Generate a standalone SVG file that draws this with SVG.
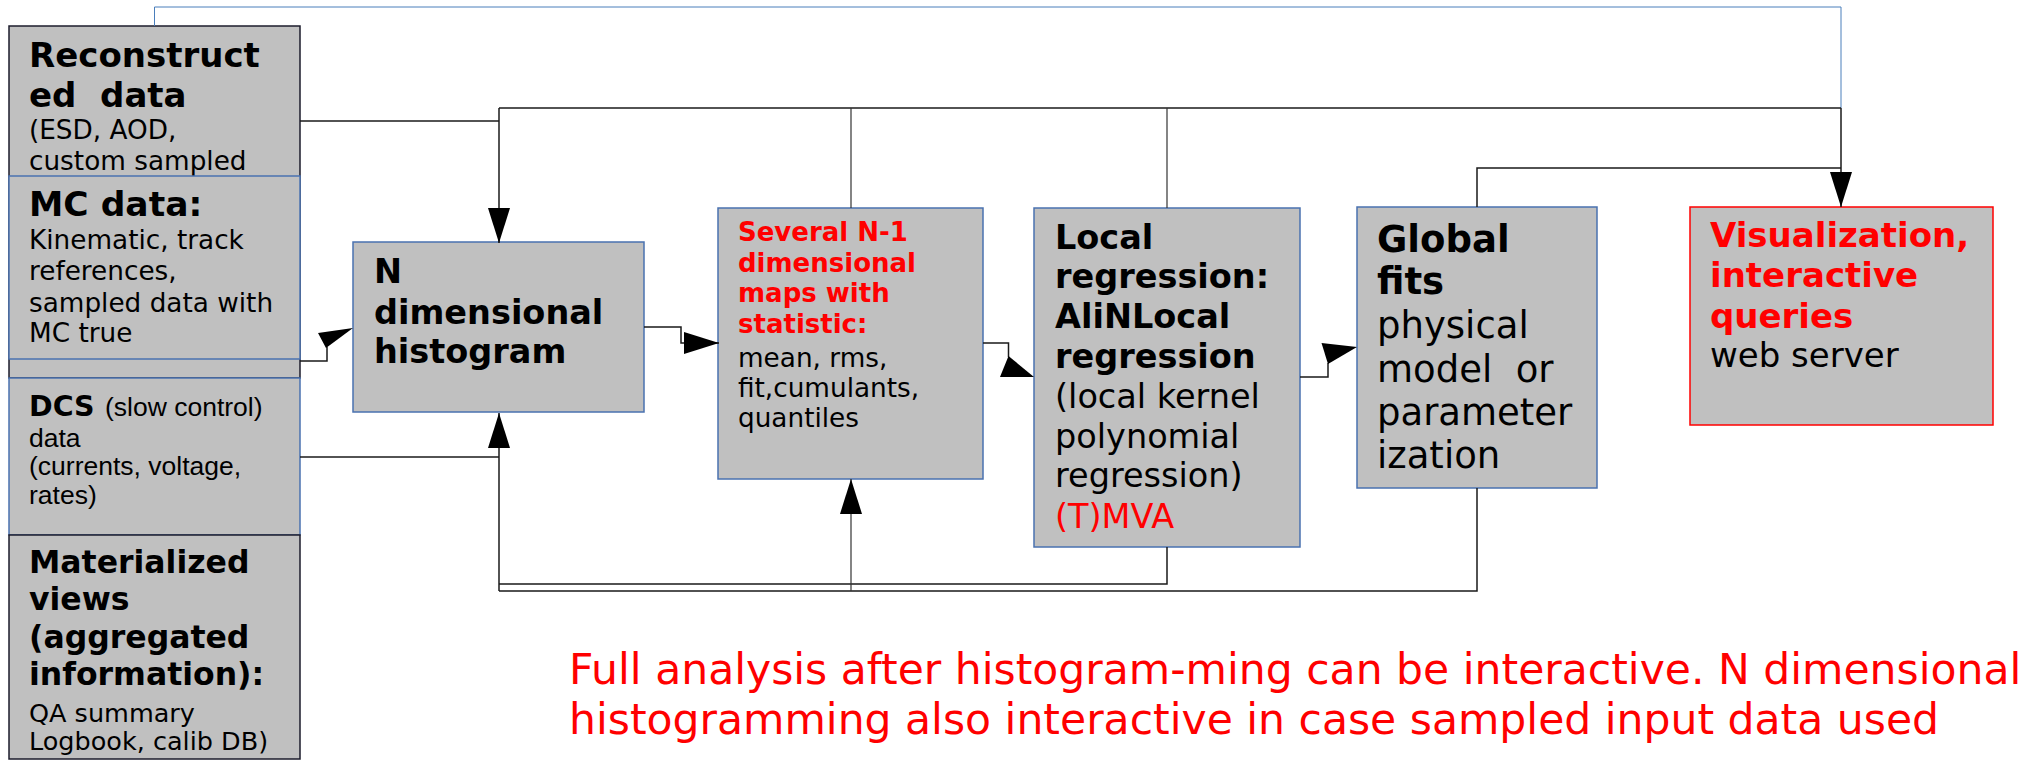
<svg xmlns="http://www.w3.org/2000/svg" width="2019" height="761" viewBox="0 0 2019 761">
<style>
.box{fill:#c0c0c0;stroke:#4a72b0;stroke-width:1.5}
.dark{stroke:#1c1c2c}
.redbox{fill:#c0c0c0;stroke:#ff0000;stroke-width:1.5}
.b{font-family:"DejaVu Sans",sans-serif;font-weight:bold;fill:#000}
.n{font-family:"DejaVu Sans",sans-serif;fill:#000}
.a{font-family:"Liberation Sans",Arial,sans-serif;fill:#000}
.red{fill:#ff0000}
.ln{fill:none;stroke:#1a1a1a;stroke-width:1.5}
.thin{fill:none;stroke:#333;stroke-width:1.2}
.blue{fill:none;stroke:#4a7ebb;stroke-width:1}
.ah{fill:#000}
</style>
<defs>
<marker id="arr" markerUnits="userSpaceOnUse" markerWidth="36" markerHeight="24" refX="35" refY="11" orient="auto" viewBox="0 0 36 22">
<path d="M0,0 L35,11 L0,22 Z" fill="#000"/>
</marker>
</defs>

<g id="n-reconstructed">
<rect class="box dark" x="9" y="26" width="291" height="352"/>
<text class="b" font-size="34" x="29" y="67">Reconstruct</text>
<text class="b" font-size="34" x="29" y="107" xml:space="preserve">ed  data</text>
<text class="n" font-size="26.3" x="29" y="139">(ESD, AOD,</text>
<text class="n" font-size="26.3" x="29" y="170">custom sampled</text>
</g>

<g id="n-mc">
<rect class="box" x="9" y="176" width="291" height="183"/>
<text class="b" font-size="34.5" x="29" y="216">MC data:</text>
<text class="n" font-size="26.3" x="29" y="249">Kinematic, track</text>
<text class="n" font-size="26.3" x="29" y="280">references,</text>
<text class="n" font-size="26.3" x="29" y="312">sampled data with</text>
<text class="n" font-size="26.3" x="29" y="342">MC true</text>
</g>

<g id="n-dcs">
<rect class="box" x="9" y="378" width="291" height="157"/>
<text x="29" y="416"><tspan class="b" font-size="28.5">DCS</tspan><tspan class="a" font-size="26.5" x="105">(slow control)</tspan></text>
<text class="a" font-size="26.5" x="29" y="447">data</text>
<text class="a" font-size="26.5" x="29" y="475">(currents, voltage,</text>
<text class="a" font-size="26.5" x="29" y="504">rates)</text>
</g>

<g id="n-materialized">
<rect class="box dark" x="9" y="535" width="291" height="224"/>
<text class="b" font-size="31.5" x="29" y="573">Materialized</text>
<text class="b" font-size="31.5" x="29" y="610">views</text>
<text class="b" font-size="31.5" x="29" y="648">(aggregated</text>
<text class="b" font-size="31.5" x="29" y="685">information):</text>
<text class="n" font-size="25.5" x="29" y="722">QA summary</text>
<text class="n" font-size="25.5" x="29" y="750">Logbook, calib DB)</text>
</g>

<g id="n-histogram">
<rect class="box" x="353" y="242" width="291" height="170"/>
<text class="b" font-size="33.5" x="374" y="283">N</text>
<text class="b" font-size="33.5" x="374" y="324">dimensional</text>
<text class="b" font-size="33.5" x="374" y="363">histogram</text>
</g>

<g id="n-maps">
<rect class="box" x="718" y="208" width="265" height="271"/>
<text class="b red" font-size="26" x="738" y="241">Several N-1</text>
<text class="b red" font-size="26" x="738" y="272">dimensional</text>
<text class="b red" font-size="26" x="738" y="302">maps with</text>
<text class="b red" font-size="26" x="738" y="333">statistic:</text>
<text class="n" font-size="26.3" x="738" y="367">mean, rms,</text>
<text class="n" font-size="26.3" x="738" y="397">fit,cumulants,</text>
<text class="n" font-size="26.3" x="738" y="427">quantiles</text>
</g>

<g id="n-local">
<rect class="box" x="1034" y="208" width="266" height="339"/>
<text class="b" font-size="33.5" x="1055" y="249">Local</text>
<text class="b" font-size="33.5" x="1055" y="288">regression:</text>
<text class="b" font-size="33.5" x="1055" y="328">AliNLocal</text>
<text class="b" font-size="33.5" x="1055" y="368">regression</text>
<text class="n" font-size="33.5" x="1055" y="408">(local kernel</text>
<text class="n" font-size="33.5" x="1055" y="448">polynomial</text>
<text class="n" font-size="33.5" x="1055" y="487">regression)</text>
<text class="n red" font-size="33.5" x="1055" y="528">(T)MVA</text>
</g>

<g id="n-global">
<rect class="box" x="1357" y="207" width="240" height="281"/>
<text class="b" font-size="37" x="1377" y="252">Global</text>
<text class="b" font-size="37" x="1377" y="294">fits</text>
<text class="n" font-size="37" x="1377" y="338">physical</text>
<text class="n" font-size="37" x="1377" y="382" xml:space="preserve">model  or</text>
<text class="n" font-size="37" x="1377" y="425">parameter</text>
<text class="n" font-size="37" x="1377" y="468">ization</text>
</g>

<g id="n-visualization">
<rect class="redbox" x="1690" y="207" width="303" height="218"/>
<text class="b red" font-size="34" x="1710" y="247">Visualization,</text>
<text class="b red" font-size="34" x="1710" y="287">interactive</text>
<text class="b red" font-size="34" x="1710" y="328">queries</text>
<text class="n" font-size="34" x="1710" y="367">web server</text>
</g>

<g id="connectors">
<path class="blue" d="M154.5,26 V7 H1841 V108"/>
<path class="ln" d="M499,108 H1841"/>
<path class="thin" d="M851,108 V208"/>
<path class="thin" d="M1167,108 V208"/>
<path class="ln" d="M1841,108 V207" marker-end="url(#arr)"/>
<path class="ln" d="M1477,207 V168 H1841"/>
<path class="ln" d="M300,121 H499"/>
<path class="ln" d="M499,108 V243" marker-end="url(#arr)"/>
<path class="ln" d="M300,361 H327 V347"/>
<polygon class="ah" points="318,333 326,348 353,328"/>
<path class="ln" d="M300,457 H499"/>
<path class="ln" d="M499,591 V413" marker-end="url(#arr)"/>
<path class="ln" d="M499,584 H1167 V547"/>
<path class="ln" d="M499,591 H1477 V488"/>
<path class="thin" d="M851,591 V479" marker-end="url(#arr)"/>
<path class="ln" d="M644,327 H681 V343 H719" marker-end="url(#arr)"/>
<path class="ln" d="M983,343 H1008.5 V357"/>
<polygon class="ah" points="1008.5,356 1000,377 1034,377"/>
<path class="ln" d="M1300,377 H1328 V363"/>
<polygon class="ah" points="1321.5,343 1328,364 1357,347"/>
</g>

<g id="caption">
<text class="n red" font-size="42.5" x="569" y="684">Full analysis after histogram-ming can be interactive. N dimensional</text>
<text class="n red" font-size="42.5" x="569" y="734">histogramming also interactive in case sampled input data used</text>
</g>
</svg>
